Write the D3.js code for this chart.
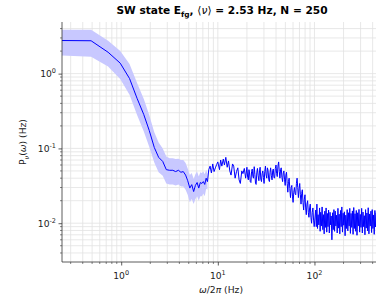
<!DOCTYPE html>
<html>
<head>
<meta charset="utf-8">
<script src="https://cdn.jsdelivr.net/npm/d3@7"></script>
<style>
  body { margin: 0; background: #fff; }
  svg { display: block; font-family: 'DejaVu Sans', sans-serif; }
</style>
</head>
<body>
<div class="chart"></div>
<script>
// low frequency bins (Hz) with mean power and shaded band
var lowFreq = [0.244, 0.488, 0.732, 0.977, 1.22, 1.46, 1.71, 1.95, 2.20, 2.44, 2.69, 2.93,
  3.17, 3.42, 3.66, 3.91, 4.15, 4.39, 4.64, 4.88, 5.13, 5.37, 5.62, 5.86, 6.10, 6.35,
  6.59, 6.84, 7.08, 7.32, 7.57, 7.81];
var lowPower = [2.77, 2.75, 1.93, 1.38, 0.86, 0.467, 0.285, 0.174, 0.103, 0.076, 0.067, 0.052,
  0.051, 0.051, 0.049, 0.051, 0.048, 0.049, 0.044, 0.037, 0.0295, 0.0328, 0.0265, 0.032, 0.035, 0.0295,
  0.035, 0.034, 0.036, 0.033, 0.040, 0.036];
var lowBandLo = [1.75, 1.68, 1.25, 0.85, 0.52, 0.28, 0.17, 0.105, 0.065, 0.048, 0.043, 0.034,
  0.033, 0.033, 0.032, 0.033, 0.031, 0.031, 0.028, 0.024, 0.019, 0.021, 0.018, 0.021, 0.023, 0.020,
  0.023, 0.023, 0.025, 0.023, 0.029, 0.028];
var lowBandHi = [3.85, 3.85, 2.75, 2.0, 1.35, 0.75, 0.46, 0.28, 0.165, 0.12, 0.10, 0.078,
  0.074, 0.074, 0.072, 0.073, 0.070, 0.070, 0.064, 0.054, 0.044, 0.047, 0.039, 0.045, 0.049, 0.042,
  0.048, 0.047, 0.049, 0.045, 0.052, 0.046];

// 8 - 20 Hz
var midFreq = [8.06, 8.32, 8.58, 8.86, 9.14, 9.43, 9.73, 10.0, 10.4, 10.7, 11.0, 11.4, 11.7, 12.1,
  12.5, 12.9, 13.3, 13.7, 14.2, 14.6, 15.1, 15.6, 16.1, 16.6, 17.1, 17.7, 18.2, 18.8, 19.4];
var midPower = [0.052, 0.058, 0.047, 0.062, 0.049, 0.055, 0.061, 0.066, 0.052, 0.070, 0.058, 0.072, 0.060, 0.076,
  0.056, 0.068, 0.050, 0.044, 0.062, 0.058, 0.040, 0.049, 0.055, 0.038, 0.034, 0.050, 0.046, 0.054, 0.040];

// 20 - 100 Hz
var bumpFreq = [20.0, 20.35, 20.7, 21.0, 21.3, 21.65, 22.0, 22.35, 22.7, 23.05,
  23.4, 23.8, 24.2, 24.55, 24.9, 25.3, 25.7, 26.15, 26.6, 27.0,
  27.4, 27.85, 28.3, 28.75, 29.2, 29.65, 30.1, 30.6, 31.1, 31.6,
  32.1, 32.6, 33.1, 33.65, 34.2, 34.7, 35.2, 35.8, 36.4, 36.95,
  37.5, 38.1, 38.7, 39.35, 40.0, 40.6, 41.2, 41.9, 42.6, 43.25,
  43.9, 44.6, 45.3, 46.05, 46.8, 47.55, 48.3, 49.05, 49.8, 50.6,
  51.4, 52.2, 53.0, 53.85, 54.7, 55.6, 56.5, 57.4, 58.3, 59.2,
  60.1, 61.1, 62.1, 63.05, 64.0, 65.05, 66.1, 67.15, 68.2, 69.3,
  70.4, 71.5, 72.6, 73.75, 74.9, 76.1, 77.3, 78.55, 79.8, 81.05,
  82.3, 83.65, 85.0, 86.35, 87.7, 89.1, 90.5, 91.95, 93.4, 94.9,
  96.4, 97.9, 99.4];
var bumpPower = [0.056, 0.041, 0.038, 0.052, 0.047, 0.036, 0.035, 0.049, 0.053, 0.042,
  0.040, 0.057, 0.045, 0.034, 0.033, 0.047, 0.054, 0.043, 0.037, 0.050,
  0.056, 0.039, 0.036, 0.046, 0.050, 0.041, 0.034, 0.049, 0.058, 0.044,
  0.040, 0.055, 0.051, 0.038, 0.036, 0.048, 0.055, 0.043, 0.038, 0.050,
  0.053, 0.041, 0.040, 0.054, 0.060, 0.046, 0.042, 0.058, 0.066, 0.049,
  0.040, 0.052, 0.055, 0.041, 0.036, 0.047, 0.050, 0.038, 0.032, 0.044,
  0.048, 0.034, 0.026, 0.036, 0.040, 0.029, 0.022, 0.030, 0.032, 0.023,
  0.019, 0.026, 0.030, 0.025, 0.024, 0.034, 0.040, 0.030, 0.022, 0.029,
  0.034, 0.024, 0.018, 0.025, 0.028, 0.019, 0.015, 0.021, 0.024, 0.016,
  0.013, 0.018, 0.020, 0.014, 0.012, 0.016, 0.018, 0.012, 0.010, 0.014,
  0.016, 0.011, 0.009];

// 100 - 500 Hz
var tailFreq = [103, 104.5, 106, 107.5, 109, 111, 113, 114.5, 116, 118,
  120, 122, 124, 126, 128, 130, 132, 134, 136, 138,
  140, 142.5, 145, 147, 149, 151.5, 154, 156.5, 159, 161.5,
  164, 166.5, 169, 172, 175, 177.5, 180, 183, 186, 189,
  192, 195, 198, 201, 204, 207.5, 211, 214.5, 218, 221.5,
  225, 228.5, 232, 235.5, 239, 243, 247, 251, 255, 259,
  263, 267, 271, 275.5, 280, 284.5, 289, 293.5, 298, 303,
  308, 313, 318, 323, 328, 333, 338, 343.5, 349, 354.5,
  360, 366, 372, 378, 384, 390, 396, 402.5, 409, 415.5,
  422, 428.5, 435, 442, 449, 456, 463, 470.5, 478, 485.5,
  493];
var tailPower = [0.015, 0.009, 0.018, 0.0085, 0.013, 0.0095, 0.016, 0.0078, 0.014, 0.0092,
  0.0165, 0.0082, 0.013, 0.0072, 0.0145, 0.0088, 0.016, 0.0076, 0.0135, 0.009,
  0.015, 0.0074, 0.014, 0.0095, 0.0125, 0.006, 0.0138, 0.0082, 0.0152, 0.0078,
  0.0145, 0.0092, 0.0128, 0.0074, 0.0158, 0.0086, 0.0132, 0.0072, 0.0148, 0.009,
  0.0165, 0.0076, 0.0136, 0.0094, 0.0142, 0.0068, 0.0128, 0.0085, 0.0152, 0.0079,
  0.0138, 0.0092, 0.0158, 0.0073, 0.0135, 0.0088, 0.0146, 0.0071, 0.0162, 0.0085,
  0.0134, 0.0078, 0.0148, 0.0069, 0.0138, 0.0092, 0.0153, 0.0076, 0.0131, 0.0088,
  0.0158, 0.0074, 0.0141, 0.009, 0.0126, 0.007, 0.0152, 0.0086, 0.0137, 0.0079,
  0.0161, 0.0072, 0.0133, 0.0092, 0.0145, 0.0075, 0.0152, 0.0085, 0.0129, 0.0071,
  0.0148, 0.0089, 0.0138, 0.0076, 0.0155, 0.0082, 0.0132, 0.0074, 0.0147, 0.0088,
  0.0136];

var xTicks = [1, 10, 100];
var yTicks = [0.01, 0.1, 1];

var margin = { top: 22, right: -6, bottom: 39, left: 62 };
var W = 376, H = 301;
var width = W - margin.left - margin.right;
var height = H - margin.top - margin.bottom;

var svg = d3.select('.chart')
  .append('svg')
  .attr('width', W)
  .attr('height', H);

var g = svg.append('g')
  .attr('transform', 'translate(' + margin.left + ',' + margin.top + ')');

var x = d3.scaleLog().domain([0.244, 500]).range([0, width]);
var y = d3.scaleLog().domain([0.00303, 4.9]).range([height, 0]);

// minor ticks
var xMinor = [], yMinor = [];
[0.1, 1, 10, 100].forEach(function (d) {
  for (var i = 2; i <= 9; i++) {
    var v = d * i;
    if (v >= 0.244 && v <= 500) xMinor.push(v);
  }
});
[0.001, 0.01, 0.1, 1].forEach(function (d) {
  for (var i = 2; i <= 9; i++) {
    var v = d * i;
    if (v >= 0.00303 && v <= 4.9) yMinor.push(v);
  }
});

// grid
g.selectAll('.gx').data(xMinor.concat(xTicks)).enter().append('line')
  .attr('x1', d => x(d)).attr('x2', d => x(d))
  .attr('y1', 0).attr('y2', height)
  .style('stroke', '#e2e2e2').style('stroke-width', 0.8);
g.selectAll('.gy').data(yMinor.concat(yTicks)).enter().append('line')
  .attr('y1', d => y(d)).attr('y2', d => y(d))
  .attr('x1', 0).attr('x2', width)
  .style('stroke', '#e2e2e2').style('stroke-width', 0.8);

// band
var lowData = lowFreq.map((f, i) => ({ f: f, p: lowPower[i], lo: lowBandLo[i], hi: lowBandHi[i] }));
var area = d3.area()
  .x(d => x(d.f))
  .y0(d => y(d.lo))
  .y1(d => y(d.hi));
g.append('path')
  .attr('d', area(lowData))
  .style('fill', '#c8c8ff')
  .style('stroke', 'none');

// line
var toPts = (fs, ps) => fs.map((f, i) => ({ f: f, p: ps[i] }));
var allData = lowData
  .concat(toPts(midFreq, midPower))
  .concat(toPts(bumpFreq, bumpPower))
  .concat(toPts(tailFreq, tailPower));
var line = d3.line()
  .x(d => x(d.f))
  .y(d => y(d.p));
g.append('path')
  .attr('d', line(allData))
  .style('fill', 'none')
  .style('stroke', '#0000ff')
  .style('stroke-width', 1)
  .style('stroke-linejoin', 'round');

// axes
var xAxis = g.append('g').attr('transform', 'translate(0,' + height + ')');
xAxis.call(d3.axisBottom(x).tickValues(xTicks).tickSize(3.5).tickFormat(''));
xAxis.selectAll('.minor').data(xMinor).enter().append('line')
  .attr('x1', d => x(d)).attr('x2', d => x(d)).attr('y1', 0).attr('y2', 2)
  .style('stroke', '#333').style('stroke-width', 0.6);
var yAxis = g.append('g');
yAxis.call(d3.axisLeft(y).tickValues(yTicks).tickSize(3.5).tickFormat(''));
yAxis.selectAll('.minor').data(yMinor).enter().append('line')
  .attr('y1', d => y(d)).attr('y2', d => y(d)).attr('x1', 0).attr('x2', -2)
  .style('stroke', '#333').style('stroke-width', 0.6);
g.selectAll('.domain').style('stroke', '#333').style('stroke-width', 0.8);
xAxis.select('.domain').attr('d', 'M0,0H' + width);
yAxis.select('.domain').attr('d', 'M0,0V' + height);
g.selectAll('.tick line').style('stroke', '#333').style('stroke-width', 0.8);

// tick labels
function pow10(sel, e) {
  sel.append('tspan').text('10');
  sel.append('tspan').attr('dy', -4).style('font-size', '6.5px').text(e);
}
xTicks.forEach(function (t) {
  var e = Math.round(Math.log10(t));
  var txt = g.append('text')
    .attr('x', x(t)).attr('y', height + 17)
    .attr('text-anchor', 'middle')
    .style('font-size', '9.2px').style('fill', '#222');
  pow10(txt, String(e));
});
yTicks.forEach(function (t) {
  var e = Math.round(Math.log10(t));
  var txt = g.append('text')
    .attr('x', -6).attr('y', y(t) + 3.5)
    .attr('text-anchor', 'end')
    .style('font-size', '9.2px').style('fill', '#222');
  pow10(txt, e < 0 ? '-' + (-e) : String(e));
});

// axis labels
var xl = svg.append('text')
  .attr('x', 221).attr('y', 293)
  .attr('text-anchor', 'middle')
  .style('font-size', '9.2px').style('fill', '#222');
xl.append('tspan').style('font-style', 'italic').text('ω');
xl.append('tspan').text('/2');
xl.append('tspan').style('font-style', 'italic').text('π');
xl.append('tspan').text(' (Hz)');

var yl = svg.append('text')
  .attr('transform', 'translate(26,142) rotate(-90)')
  .attr('text-anchor', 'middle')
  .style('font-size', '9.2px').style('fill', '#222');
yl.append('tspan').text('P');
yl.append('tspan').attr('dy', 2.5).style('font-size', '6.5px').style('font-style', 'italic').text('ν');
yl.append('tspan').attr('dy', -2.5).text('(');
yl.append('tspan').style('font-style', 'italic').text('ω');
yl.append('tspan').text(') (Hz)');

// title
var title = svg.append('text')
  .attr('x', 222).attr('y', 14)
  .attr('text-anchor', 'middle')
  .style('font-size', '10.6px').style('font-weight', 'bold').style('fill', '#000');
title.append('tspan').text('SW state E');
title.append('tspan').attr('dy', 3).style('font-size', '7.4px').text('fg');
title.append('tspan').attr('dy', -3).text(', ');
title.append('tspan').style('font-weight', 'normal').text('⟨');
title.append('tspan').style('font-weight', 'normal').style('font-style', 'italic').text('ν');
title.append('tspan').style('font-weight', 'normal').text('⟩');
title.append('tspan').text(' = 2.53 Hz, N = 250');
</script>
</body>
</html>
